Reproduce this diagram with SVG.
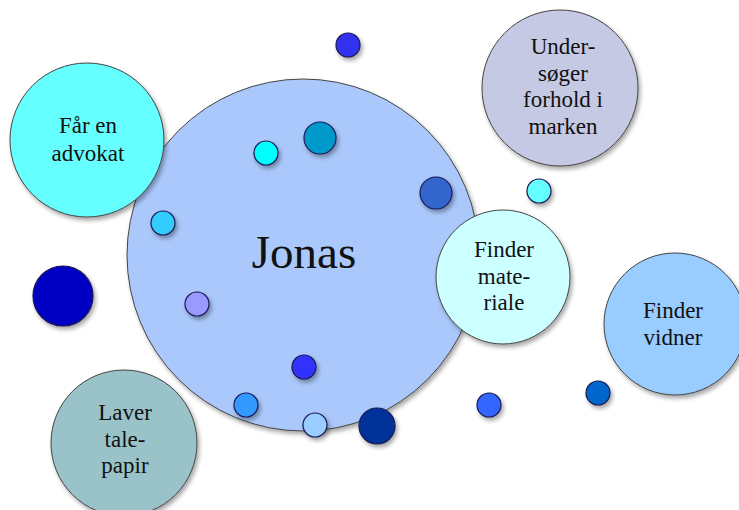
<svg xmlns="http://www.w3.org/2000/svg" width="739" height="510" viewBox="0 0 739 510">
<defs>
<filter id="sh" x="-30%" y="-30%" width="160%" height="160%">
<feDropShadow dx="2" dy="3" stdDeviation="2.2" flood-color="#000" flood-opacity="0.35"/>
</filter>
</defs>
<style>
.b{stroke:#444;stroke-width:1;filter:url(#sh)}
.d{stroke:#1a1a55;stroke-width:1.2;filter:url(#sh)}
text{font-family:"Liberation Serif","Times New Roman",serif;fill:#111;text-anchor:middle}
.t{font-size:23px}
.j{font-size:47px}
</style>
<rect width="739" height="510" fill="#fff"/>
<g id="jonas">
<circle class="b" cx="303" cy="255" r="176" fill="#aac8fb"/>
<text class="j" x="304" y="268">Jonas</text>
</g>
<g id="faar-en-advokat">
<circle class="b" cx="87" cy="140" r="77" fill="#66ffff"/>
<text class="t" x="88" y="133">Får en</text>
<text class="t" x="88" y="161">advokat</text>
</g>
<g id="undersoeger">
<circle class="b" cx="560" cy="88" r="78" fill="#c6c9e3"/>
<text class="t" x="563" y="54">Under-</text>
<text class="t" x="563" y="80.5">søger</text>
<text class="t" x="563" y="107">forhold i</text>
<text class="t" x="563" y="133.5">marken</text>
</g>
<g id="finder-materiale">
<circle class="b" cx="503" cy="277" r="67" fill="#ccffff"/>
<text class="t" x="504" y="257">Finder</text>
<text class="t" x="504" y="283.5">mate-</text>
<text class="t" x="504" y="310">riale</text>
</g>
<g id="finder-vidner">
<circle class="b" cx="675" cy="324" r="71" fill="#99ccff"/>
<text class="t" x="673" y="318">Finder</text>
<text class="t" x="673" y="344.5">vidner</text>
</g>
<g id="laver-talepapir">
<circle class="b" cx="124" cy="443" r="73" fill="#99c3c9"/>
<text class="t" x="125" y="420">Laver</text>
<text class="t" x="125" y="446.5">tale-</text>
<text class="t" x="125" y="473">papir</text>
</g>
<g id="dots">
<circle id="dot1" class="d" cx="348" cy="45" r="12" fill="#3333ee"/>
<circle id="dot2" class="d" cx="266" cy="153" r="12" fill="#00ffff"/>
<circle id="dot3" class="d" cx="320" cy="138" r="16" fill="#0099cc"/>
<circle id="dot4" class="d" cx="436" cy="193" r="16" fill="#3366cc"/>
<circle id="dot5" class="d" cx="539" cy="191" r="12" fill="#66ffff"/>
<circle id="dot6" class="d" cx="163" cy="223" r="12" fill="#33ccff"/>
<circle id="dot7" class="d" cx="63" cy="296" r="30" fill="#0000c4"/>
<circle id="dot8" class="d" cx="197" cy="304" r="12" fill="#9999ff"/>
<circle id="dot9" class="d" cx="304" cy="367" r="12" fill="#3333ff"/>
<circle id="dot10" class="d" cx="246" cy="405" r="12" fill="#3399ff"/>
<circle id="dot11" class="d" cx="315" cy="425" r="12" fill="#99ccff"/>
<circle id="dot12" class="d" cx="377" cy="426" r="18" fill="#003399"/>
<circle id="dot13" class="d" cx="489" cy="405" r="12" fill="#3366ff"/>
<circle id="dot14" class="d" cx="598" cy="393" r="12" fill="#0066cc"/>
</g>
</svg>
